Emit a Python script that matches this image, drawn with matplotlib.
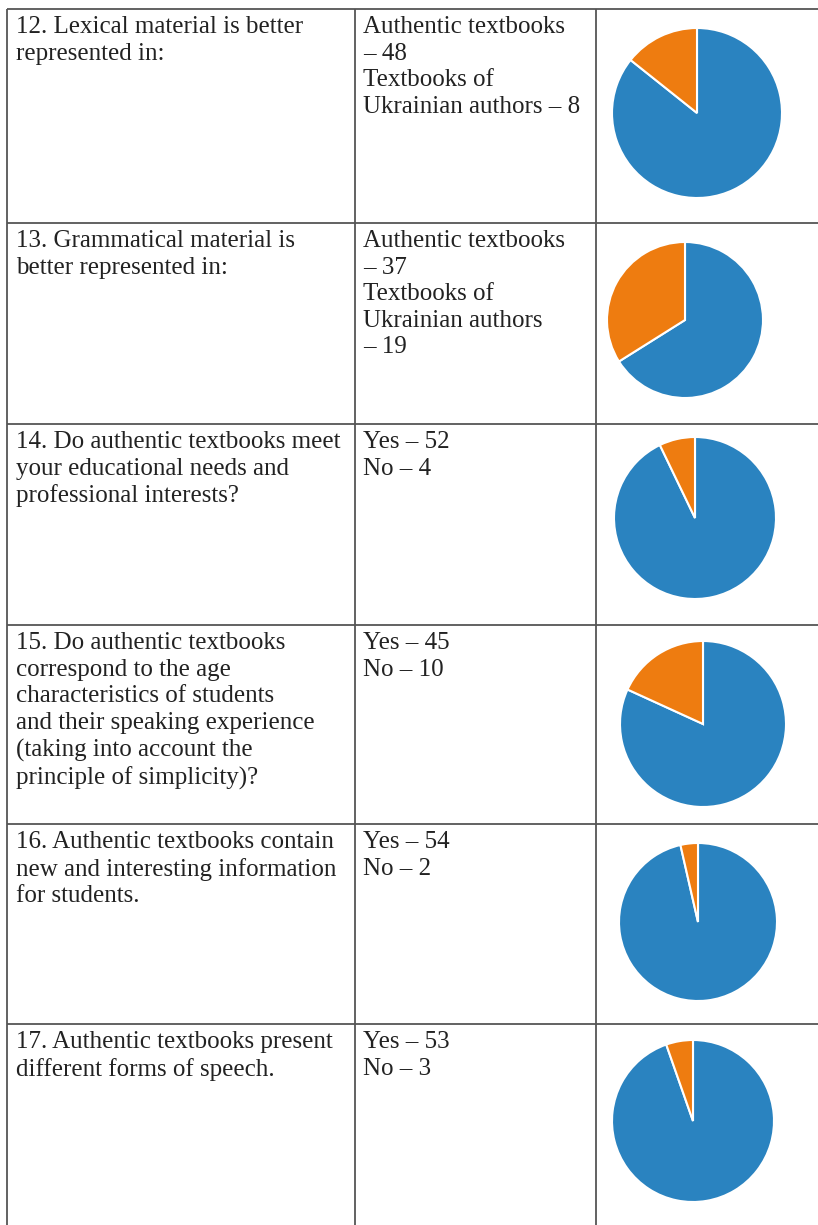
import matplotlib.pyplot as plt

# dados da tabela
perguntas = [
    "12. Lexical material is better\nrepresented in:",
    "13. Grammatical material is\nbetter represented in:",
    "14. Do authentic textbooks meet\nyour educational needs and\nprofessional interests?",
    "15. Do authentic textbooks\ncorrespond to the age\ncharacteristics of students\nand their speaking experience\n(taking into account the\nprinciple of simplicity)?",
    "16. Authentic textbooks contain\nnew and interesting information\nfor students.",
    "17. Authentic textbooks present\ndifferent forms of speech.",
]
respostas = [
    "Authentic textbooks\n\u2013 48\nTextbooks of\nUkrainian authors \u2013 8",
    "Authentic textbooks\n\u2013 37\nTextbooks of\nUkrainian authors\n\u2013 19",
    "Yes \u2013 52\nNo \u2013 4",
    "Yes \u2013 45\nNo \u2013 10",
    "Yes \u2013 54\nNo \u2013 2",
    "Yes \u2013 53\nNo \u2013 3",
]
sim = [48, 37, 52, 45, 54, 53]
nao = [8, 19, 4, 10, 2, 3]

# layout em pixels
W, H = 818, 1225
linhas_y = [9, 223, 424, 625, 824, 1024]
fundo_y = 1225
col_x = [7, 355, 596]
centros = [(697, 113), (685, 320), (695, 518), (703, 724), (698, 922), (693, 1121)]
raios = [85, 78, 81, 83, 79, 81]

azul = '#2a83c0'
laranja = '#ee7c10'
cor_linha = '#555555'
cor_texto = '#222222'

fig = plt.figure(figsize=(W / 100, H / 100), dpi=100)
ax = fig.add_axes([0, 0, 1, 1])
ax.set_xlim(0, W)
ax.set_ylim(H, 0)
ax.axis('off')

# bordas da tabela
for y in linhas_y:
    ax.plot([col_x[0], W], [y, y], color=cor_linha, lw=1.3, solid_capstyle='butt')
for x in col_x:
    ax.plot([x, x], [linhas_y[0], fundo_y], color=cor_linha, lw=1.3, solid_capstyle='butt')

# textos
for i in range(len(perguntas)):
    y0 = linhas_y[i] + 7
    ax.text(16, y0, perguntas[i], fontsize=18, family='Liberation Serif',
            color=cor_texto, va='top', ha='left', linespacing=1.27)
    ax.text(363, y0, respostas[i], fontsize=18, family='Liberation Serif',
            color=cor_texto, va='top', ha='left', linespacing=1.27)

# pizzas
for i in range(len(sim)):
    cx, cy = centros[i]
    r = raios[i]
    pax = fig.add_axes([(cx - r) / W, (H - cy - r) / H, 2 * r / W, 2 * r / H])
    pax.pie([sim[i], nao[i]], colors=[azul, laranja], startangle=90, counterclock=False,
            wedgeprops={'edgecolor': 'white', 'linewidth': 1.5}, radius=1)
    pax.set_xlim(-1, 1)
    pax.set_ylim(-1, 1)
    pax.set_aspect('equal')

plt.savefig('out.png', dpi=100)
